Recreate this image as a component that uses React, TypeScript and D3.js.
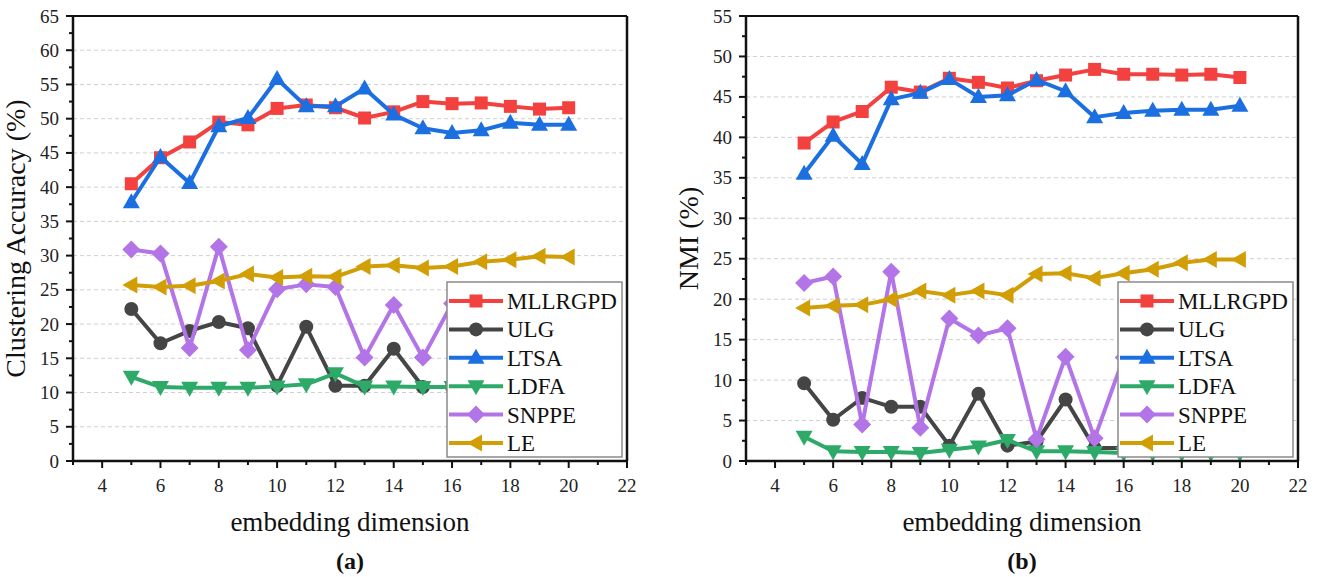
import React from 'react';
import * as d3 from 'd3';

// embedding dimension
const dims = [5, 6, 7, 8, 9, 10, 11, 12, 13, 14, 15, 16, 17, 18, 19, 20];
const methods = ['MLLRGPD', 'ULG', 'LTSA', 'LDFA', 'SNPPE', 'LE'];

// (a) clustering accuracy (%)
const accMLLRGPD = [40.5, 44.3, 46.6, 49.5, 49.1, 51.5, 52.0, 51.6, 50.1, 51.0, 52.5, 52.2, 52.3, 51.8, 51.4, 51.6];
const accULG = [22.2, 17.2, 19.0, 20.3, 19.4, 11.0, 19.6, 11.0, 11.0, 16.4, 10.8, 10.8, 10.8, 10.8, 10.8, 10.8];
const accLTSA = [37.8, 44.4, 40.6, 48.9, 50.1, 55.8, 51.8, 51.8, 54.4, 50.6, 48.6, 47.9, 48.3, 49.4, 49.1, 49.1];
const accLDFA = [12.3, 10.8, 10.7, 10.7, 10.7, 10.9, 11.2, 12.8, 10.9, 10.9, 10.8, 10.8, 10.8, 10.8, 10.8, 10.8];
const accSNPPE = [30.9, 30.3, 16.5, 31.3, 16.2, 25.1, 25.8, 25.4, 15.1, 22.8, 15.1, 23.0, 16.0, 22.0, 15.0, 20.0];
const accLE = [25.7, 25.4, 25.6, 26.3, 27.3, 26.8, 27.0, 26.9, 28.4, 28.6, 28.2, 28.4, 29.1, 29.4, 29.9, 29.8];

// (b) NMI (%)
const nmiMLLRGPD = [39.3, 41.9, 43.2, 46.2, 45.6, 47.3, 46.8, 46.1, 47.0, 47.7, 48.4, 47.8, 47.8, 47.7, 47.8, 47.4];
const nmiULG = [9.6, 5.1, 7.8, 6.7, 6.7, 1.9, 8.3, 1.9, 2.4, 7.6, 1.6, 1.6, 1.6, 1.6, 1.6, 1.6];
const nmiLTSA = [35.5, 40.2, 36.7, 44.7, 45.5, 47.2, 45.0, 45.2, 47.1, 45.7, 42.5, 43.0, 43.3, 43.4, 43.4, 43.9];
const nmiLDFA = [3.0, 1.2, 1.1, 1.1, 1.0, 1.4, 1.8, 2.6, 1.2, 1.2, 1.1, 1.0, 1.0, 1.0, 1.0, 1.0];
const nmiSNPPE = [22.0, 22.8, 4.5, 23.4, 4.1, 17.6, 15.5, 16.4, 2.7, 12.9, 2.8, 12.8, 8.0, 12.0, 6.0, 10.0];
const nmiLE = [18.9, 19.2, 19.3, 20.0, 21.0, 20.5, 21.0, 20.5, 23.1, 23.2, 22.6, 23.2, 23.7, 24.5, 24.9, 24.9];

const colors = ['#f2413f', '#454545', '#1b6fe0', '#2eaa68', '#b274e6', '#d19e06'];
const shapes = ['square', 'circle', 'up', 'down', 'diamond', 'left'];
const font = '"Liberation Serif", "Times New Roman", serif';

function marker(shape: string, x: number, y: number) {
  if (shape === 'square') return `M${x - 6.5},${y - 6.5}h13v13h-13Z`;
  if (shape === 'circle') return `M${x - 7},${y}a7,7 0 1,0 14,0a7,7 0 1,0 -14,0Z`;
  if (shape === 'up') return `M${x},${y - 9}L${x + 8.5},${y + 6}L${x - 8.5},${y + 6}Z`;
  if (shape === 'down') return `M${x},${y + 9}L${x + 8.5},${y - 6}L${x - 8.5},${y - 6}Z`;
  if (shape === 'diamond') return `M${x},${y - 9}L${x + 9},${y}L${x},${y + 9}L${x - 9},${y}Z`;
  return `M${x - 9},${y}L${x + 6},${y - 8.5}L${x + 6},${y + 8.5}Z`;
}

function Panel({ left, right, yMax, yTitle, tag, series, legendX }: any) {
  const top = 16, bottom = 461;
  const x = d3.scaleLinear().domain([3, 22]).range([left, right]);
  const y = d3.scaleLinear().domain([0, yMax]).range([bottom, top]);
  const line = d3.line<number>().x((_, i) => x(dims[i])).y(d => y(d));
  const majorY = d3.range(0, yMax + 0.1, 5);
  const minorY = d3.range(2.5, yMax, 5);
  const majorX = d3.range(4, 23, 2);
  const minorX = d3.range(3, 22, 2);
  const cx = (left + right) / 2;
  const legTop = 282, rowH = 28.4;

  return (
    <g fontFamily={font}>
      {majorY.filter(v => v > 0 && v < yMax).map(v => (
        <line key={'g' + v} x1={left} x2={right} y1={y(v)} y2={y(v)} stroke="#cfcfcf" strokeWidth={1} strokeDasharray="4,3" />
      ))}
      {series.map((vals: number[], k: number) => (
        <g key={methods[k]}>
          <path d={line(vals) as string} fill="none" stroke={colors[k]} strokeWidth={4} strokeLinejoin="round" />
          {vals.map((v, i) => (
            <path key={i} d={marker(shapes[k], x(dims[i]), y(v))} fill={colors[k]} />
          ))}
        </g>
      ))}
      {/* legend */}
      <rect x={legendX} y={legTop} width={175} height={175} fill="#fff" stroke="#8a8a8a" strokeWidth={1.5} />
      {methods.map((m, k) => {
        const ly = legTop + 19 + k * rowH;
        return (
          <g key={'l' + m}>
            <line x1={legendX + 2} x2={legendX + 56} y1={ly} y2={ly} stroke={colors[k]} strokeWidth={4} />
            <path d={marker(shapes[k], legendX + 29, ly)} fill={colors[k]} />
            <text x={legendX + 60} y={ly + 8} fontSize={23} fill="#111">{m}</text>
          </g>
        );
      })}
      {/* frame */}
      <line x1={left} x2={right} y1={top} y2={top} stroke="#111" strokeWidth={2} />
      <line x1={right} x2={right} y1={top} y2={bottom} stroke="#111" strokeWidth={2.5} />
      <line x1={left} x2={left} y1={top - 1} y2={bottom + 1} stroke="#111" strokeWidth={2.5} />
      <line x1={left - 1} x2={right + 1} y1={bottom} y2={bottom} stroke="#111" strokeWidth={2.5} />
      {majorY.map(v => (
        <g key={'ty' + v}>
          <line x1={left - 7} x2={left} y1={y(v)} y2={y(v)} stroke="#111" strokeWidth={2} />
          <text x={left - 14} y={y(v) + 6.5} fontSize={19} textAnchor="end" fill="#222">{v}</text>
        </g>
      ))}
      {minorY.map(v => (
        <line key={'my' + v} x1={left - 4} x2={left} y1={y(v)} y2={y(v)} stroke="#111" strokeWidth={2} />
      ))}
      {majorX.map(v => (
        <g key={'tx' + v}>
          <line x1={x(v)} x2={x(v)} y1={bottom} y2={bottom + 7} stroke="#111" strokeWidth={2} />
          <text x={x(v)} y={bottom + 31} fontSize={19} textAnchor="middle" fill="#222">{v}</text>
        </g>
      ))}
      {minorX.map(v => (
        <line key={'mx' + v} x1={x(v)} x2={x(v)} y1={bottom} y2={bottom + 4} stroke="#111" strokeWidth={2} />
      ))}
      <text x={cx} y={531} fontSize={27} textAnchor="middle" fill="#111">embedding dimension</text>
      <text x={cx} y={569} fontSize={24} fontWeight="bold" textAnchor="middle" fill="#111">{tag}</text>
      <text transform={`translate(${left - 48},${(top + bottom) / 2}) rotate(-90)`} fontSize={28} textAnchor="middle" fill="#111">{yTitle}</text>
    </g>
  );
}

export default function App() {
  return (
    <svg width={1320} height={577} style={{ position: 'absolute', left: 0, top: 0, background: '#fff' }}>
      <rect width={1320} height={577} fill="#fff" />
      <Panel left={73} right={627} yMax={65} yTitle="Clustering Accuracy (%)" tag="(a)" legendX={447}
        series={[accMLLRGPD, accULG, accLTSA, accLDFA, accSNPPE, accLE]} />
      <Panel left={746} right={1298} yMax={55} yTitle="NMI (%)" tag="(b)" legendX={1118}
        series={[nmiMLLRGPD, nmiULG, nmiLTSA, nmiLDFA, nmiSNPPE, nmiLE]} />
    </svg>
  );
}
